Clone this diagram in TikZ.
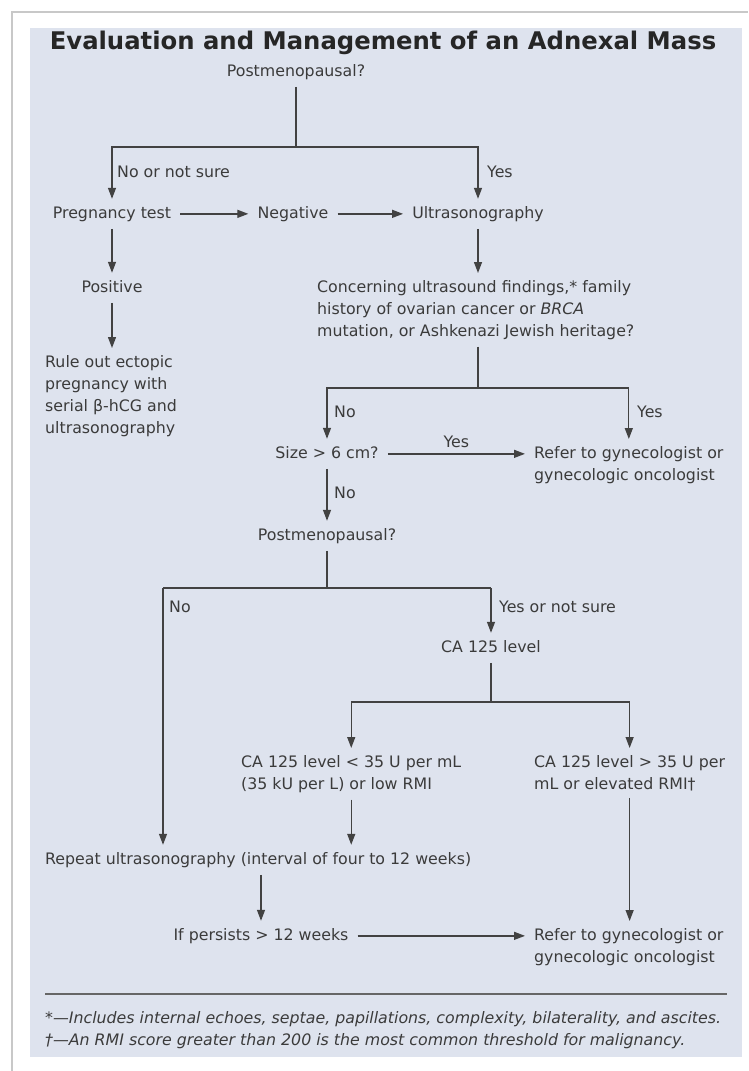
\documentclass[tikz,border=0pt]{standalone}
\usepackage{fontspec}
\setmainfont{DejaVu Sans}
\usetikzlibrary{arrows.meta}

\definecolor{panel}{HTML}{DEE3EE}
\definecolor{ink}{HTML}{3B3B3B}
\definecolor{wire}{HTML}{424242}
\definecolor{card}{HTML}{C8C8C8}

\begin{document}
\begin{tikzpicture}[x=1pt, y=-1pt,
	every node/.style={text=ink, font=\fontsize{15.8}{22}\selectfont},
	item/.style={inner xsep=9pt, inner ysep=7pt, text height=12pt, text depth=3.7pt},
	multi/.style={inner xsep=9pt, inner ysep=7pt, align=left, anchor=north west},
	lbl/.style={inner sep=0pt, anchor=base west},
	wire/.style={draw=wire, line width=1.3pt},
	arr/.style={wire, -{Triangle[length=11pt, width=8pt]}}]
	\useasboundingbox (0,0) rectangle (748,1071);
	\fill[white] (0,0) rectangle (748,1071);
	\draw[card, line width=1.5pt] (12,1071) -- (12,12) -- (748,12);
	\fill[panel] (30,28) rectangle (742,1057);

	\node[font=\fontsize{24.3}{28}\selectfont\bfseries, text=black!85, anchor=base, inner sep=0pt] (title) at (383,49) {Evaluation and Management of an Adnexal Mass};

	\node[item, anchor=base] (pm1) at (296,76) {Postmenopausal?};
	\node[item, anchor=base] (preg) at (112,218) {Pregnancy test};
	\node[item, anchor=base] (neg) at (293,218) {Negative};
	\node[item, anchor=base] (ultra) at (478,218) {Ultrasonography};
	\node[item, anchor=base] (pos) at (112,292) {Positive};
	\node[multi] (conc) at (308,273) {Concerning ultrasound findings,* family\\history of ovarian cancer or \textit{BRCA}\\mutation, or Ashkenazi Jewish heritage?};
	\node[multi] (rule) at (36,348) {Rule out ectopic\\pregnancy with\\serial β-hCG and\\ultrasonography};
	\node[item, anchor=base] (size) at (327,458) {Size > 6 cm?};
	\node[multi] (refer1) at (525,439) {Refer to gynecologist or\\gynecologic oncologist};
	\node[item, anchor=base] (pm2) at (327,540) {Postmenopausal?};
	\node[item, anchor=base] (ca) at (491,652) {CA 125 level};
	\node[multi] (low) at (232,748) {CA 125 level < 35 U per mL\\(35 kU per L) or low RMI};
	\node[multi] (high) at (525,748) {CA 125 level > 35 U per\\mL or elevated RMI†};
	\node[item, anchor=base west] (rep) at (36,864) {Repeat ultrasonography (interval of four to 12 weeks)};
	\node[item, anchor=base] (pers) at (261,940) {If persists > 12 weeks};
	\node[multi] (refer2) at (525,921) {Refer to gynecologist or\\gynecologic oncologist};

	% first split
	\coordinate (j1) at (296,147);
	\draw[wire] (pm1) -- (j1);
	\draw[arr] (j1) -| (preg);
	\draw[arr] (j1) -| (ultra);
	\node[lbl] (lno1) at (117,177) {No or not sure};
	\node[lbl] (lyes1) at (487,177) {Yes};
	\draw[arr] (preg) -- (neg);
	\draw[arr] (neg) -- (ultra);
	\draw[arr] (preg) -- (pos);
	\draw[arr] (pos) -- (pos |- rule.north);
	\draw[arr] (ultra) -- (ultra |- conc.north);

	% findings
	\coordinate (j2) at (478,388);
	\draw[wire] (ultra |- conc.south) -- (j2);
	\draw[arr] (j2) -| (size);
	\draw[arr] (j2) -| (refer1);
	\node[lbl] (lno2) at (334,417) {No};
	\node[lbl] (lyes2) at (637,417) {Yes};
	\draw[arr] (size) -- (size -| refer1.west) node[midway, above=2pt] (lyes3) {Yes};
	\draw[arr] (size) -- (pm2);
	\node[lbl] (lno3) at (334,498) {No};

	% second split
	\coordinate (j3) at (327,588);
	\coordinate (j3a) at (163,588);
	\coordinate (j3b) at (491,588);
	\draw[wire] (pm2) -- (j3);
	\draw[wire] (j3a) -- (j3b);
	\draw[arr] (j3a) -- (j3a |- rep.north);
	\draw[arr] (j3b) -- (ca);
	\node[lbl] (lno4) at (169,612) {No};
	\node[lbl] (lyes4) at (499,612) {Yes or not sure};

	% CA 125
	\coordinate (j4) at (491,702);
	\draw[wire] (ca) -- (j4);
	\draw[arr] (j4) -| (low);
	\draw[arr] (j4) -| (high);
	\draw[arr] (low) -- (low |- rep.north);
	\draw[arr] (high) -- (high |- refer2.north);
	\draw[arr] (pers |- rep.south) -- (pers);
	\draw[arr] (pers) -- (pers -| refer2.west);

	% footnotes
	\draw[wire, draw=black!60, line width=1.5pt] (45,994) -- (727,994);
	\node[lbl, font=\fontsize{15.8}{22}\selectfont\itshape] (fn1) at (45,1023) {*—Includes internal echoes, septae, papillations, complexity, bilaterality, and ascites.};
	\node[lbl, font=\fontsize{15.8}{22}\selectfont\itshape] (fn2) at (45,1045) {†—An RMI score greater than 200 is the most common threshold for malignancy.};
\end{tikzpicture}
\end{document}
